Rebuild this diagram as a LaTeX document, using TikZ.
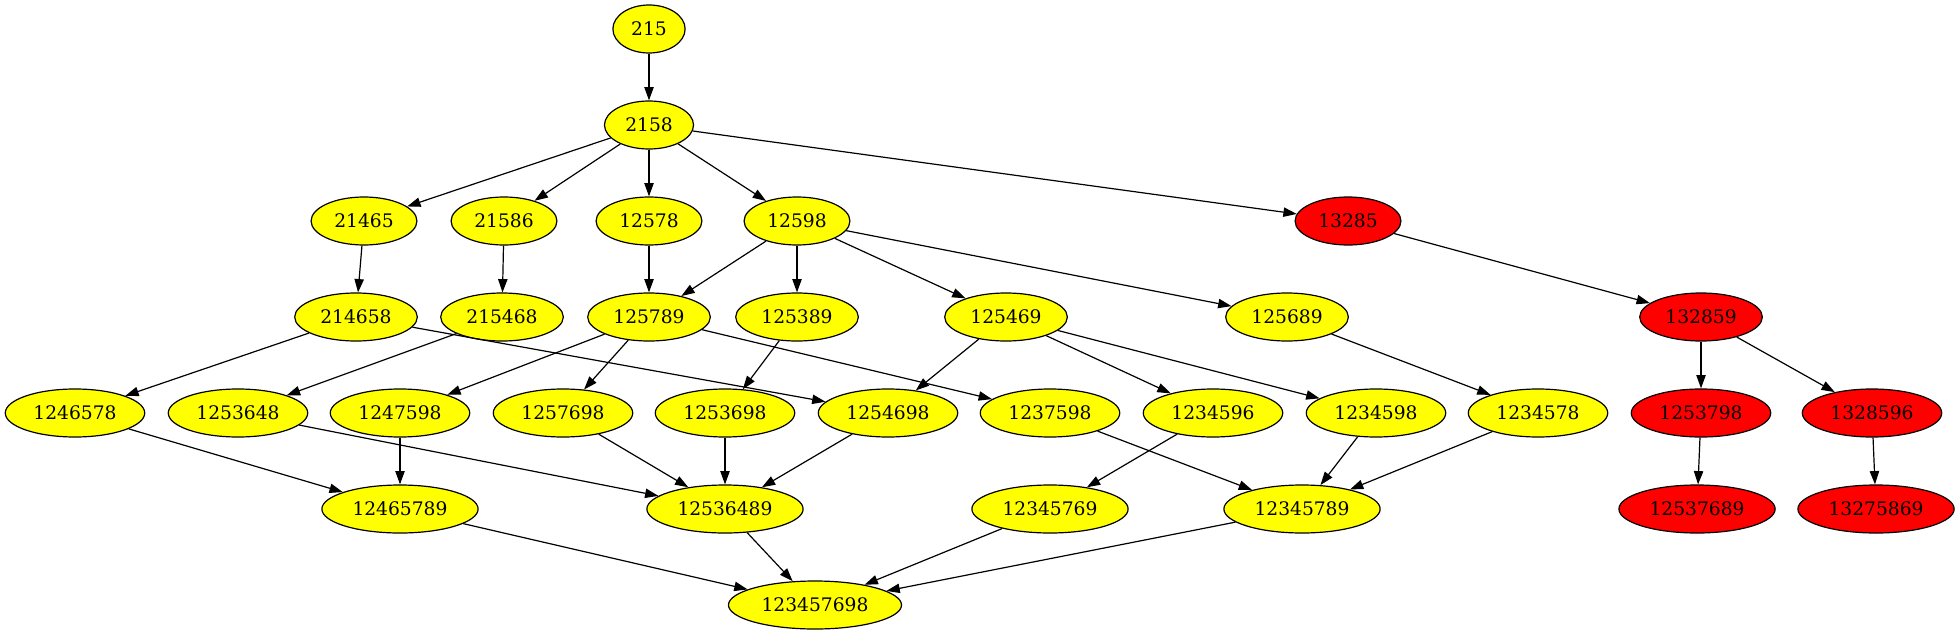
\documentclass[tikz,border=0pt]{standalone}
\usepackage{fontspec}
\setmainfont{DejaVu Serif}
\usetikzlibrary{arrows.meta, shapes.geometric}
\definecolor{gvyellow}{RGB}{255,255,0}
\definecolor{gvred}{RGB}{255,0,0}
\tikzset{>={Triangle[length=10pt,width=7pt]}}
\tikzset{
	vtx/.style={ellipse, draw, line width=0.9pt, fill=gvyellow, inner xsep=5.8pt, inner ysep=2pt, minimum height=36pt, font=\fontsize{14}{17}\selectfont},
	vtxred/.style={vtx, fill=gvred},
	edge/.style={->, line width=0.9pt}
}

\begin{document}
\begin{tikzpicture}[x=0.75pt, y=-0.75pt]
	\useasboundingbox (0,0) rectangle (1958,635);
	\node[vtx] (n215) at (649,29) {215};
	\node[vtx] (n2158) at (649,125) {2158};
	\node[vtx] (n21465) at (364,221) {21465};
	\node[vtx] (n21586) at (504,221) {21586};
	\node[vtx] (n12578) at (649,221) {12578};
	\node[vtx] (n12598) at (797,221) {12598};
	\node[vtxred] (n13285) at (1348,221) {13285};
	\node[vtx] (n214658) at (356,317) {214658};
	\node[vtx] (n215468) at (502,317) {215468};
	\node[vtx] (n125789) at (649,317) {125789};
	\node[vtx] (n125389) at (797,317) {125389};
	\node[vtx] (n125469) at (1006,317) {125469};
	\node[vtx] (n125689) at (1287,317) {125689};
	\node[vtxred] (n132859) at (1701,317) {132859};
	\node[vtx] (n1246578) at (75,413) {1246578};
	\node[vtx] (n1253648) at (238,413) {1253648};
	\node[vtx] (n1247598) at (400,413) {1247598};
	\node[vtx] (n1257698) at (563,413) {1257698};
	\node[vtx] (n1253698) at (725,413) {1253698};
	\node[vtx] (n1254698) at (888,413) {1254698};
	\node[vtx] (n1237598) at (1050,413) {1237598};
	\node[vtx] (n1234596) at (1213,413) {1234596};
	\node[vtx] (n1234598) at (1376,413) {1234598};
	\node[vtx] (n1234578) at (1538,413) {1234578};
	\node[vtxred] (n1253798) at (1701,413) {1253798};
	\node[vtxred] (n1328596) at (1872,413) {1328596};
	\node[vtx] (n12465789) at (400,509) {12465789};
	\node[vtx] (n12536489) at (725,509) {12536489};
	\node[vtx] (n12345769) at (1050,509) {12345769};
	\node[vtx] (n12345789) at (1302,509) {12345789};
	\node[vtxred] (n12537689) at (1697,509) {12537689};
	\node[vtxred] (n13275869) at (1876,509) {13275869};
	\node[vtx] (n123457698) at (815,605) {123457698};

	\draw[edge] (n215) -- (n2158);
	\draw[edge] (n2158) -- (n21465);
	\draw[edge] (n2158) -- (n21586);
	\draw[edge] (n2158) -- (n12578);
	\draw[edge] (n2158) -- (n12598);
	\draw[edge] (n2158) -- (n13285);
	\draw[edge] (n21465) -- (n214658);
	\draw[edge] (n21586) -- (n215468);
	\draw[edge] (n12578) -- (n125789);
	\draw[edge] (n12598) -- (n125789);
	\draw[edge] (n12598) -- (n125389);
	\draw[edge] (n12598) -- (n125469);
	\draw[edge] (n12598) -- (n125689);
	\draw[edge] (n13285) -- (n132859);
	\draw[edge] (n214658) -- (n1246578);
	\draw[edge] (n214658) -- (n1254698);
	\draw[edge] (n215468) -- (n1253648);
	\draw[edge] (n125789) -- (n1247598);
	\draw[edge] (n125789) -- (n1257698);
	\draw[edge] (n125789) -- (n1237598);
	\draw[edge] (n125389) -- (n1253698);
	\draw[edge] (n125469) -- (n1254698);
	\draw[edge] (n125469) -- (n1234596);
	\draw[edge] (n125469) -- (n1234598);
	\draw[edge] (n125689) -- (n1234578);
	\draw[edge] (n132859) -- (n1253798);
	\draw[edge] (n132859) -- (n1328596);
	\draw[edge] (n1246578) -- (n12465789);
	\draw[edge] (n1247598) -- (n12465789);
	\draw[edge] (n1253648) -- (n12536489);
	\draw[edge] (n1257698) -- (n12536489);
	\draw[edge] (n1253698) -- (n12536489);
	\draw[edge] (n1254698) -- (n12536489);
	\draw[edge] (n1237598) -- (n12345789);
	\draw[edge] (n1234596) -- (n12345769);
	\draw[edge] (n1234598) -- (n12345789);
	\draw[edge] (n1234578) -- (n12345789);
	\draw[edge] (n1253798) -- (n12537689);
	\draw[edge] (n1328596) -- (n13275869);
	\draw[edge] (n12465789) -- (n123457698);
	\draw[edge] (n12536489) -- (n123457698);
	\draw[edge] (n12345769) -- (n123457698);
	\draw[edge] (n12345789) -- (n123457698);
\end{tikzpicture}
\end{document}
